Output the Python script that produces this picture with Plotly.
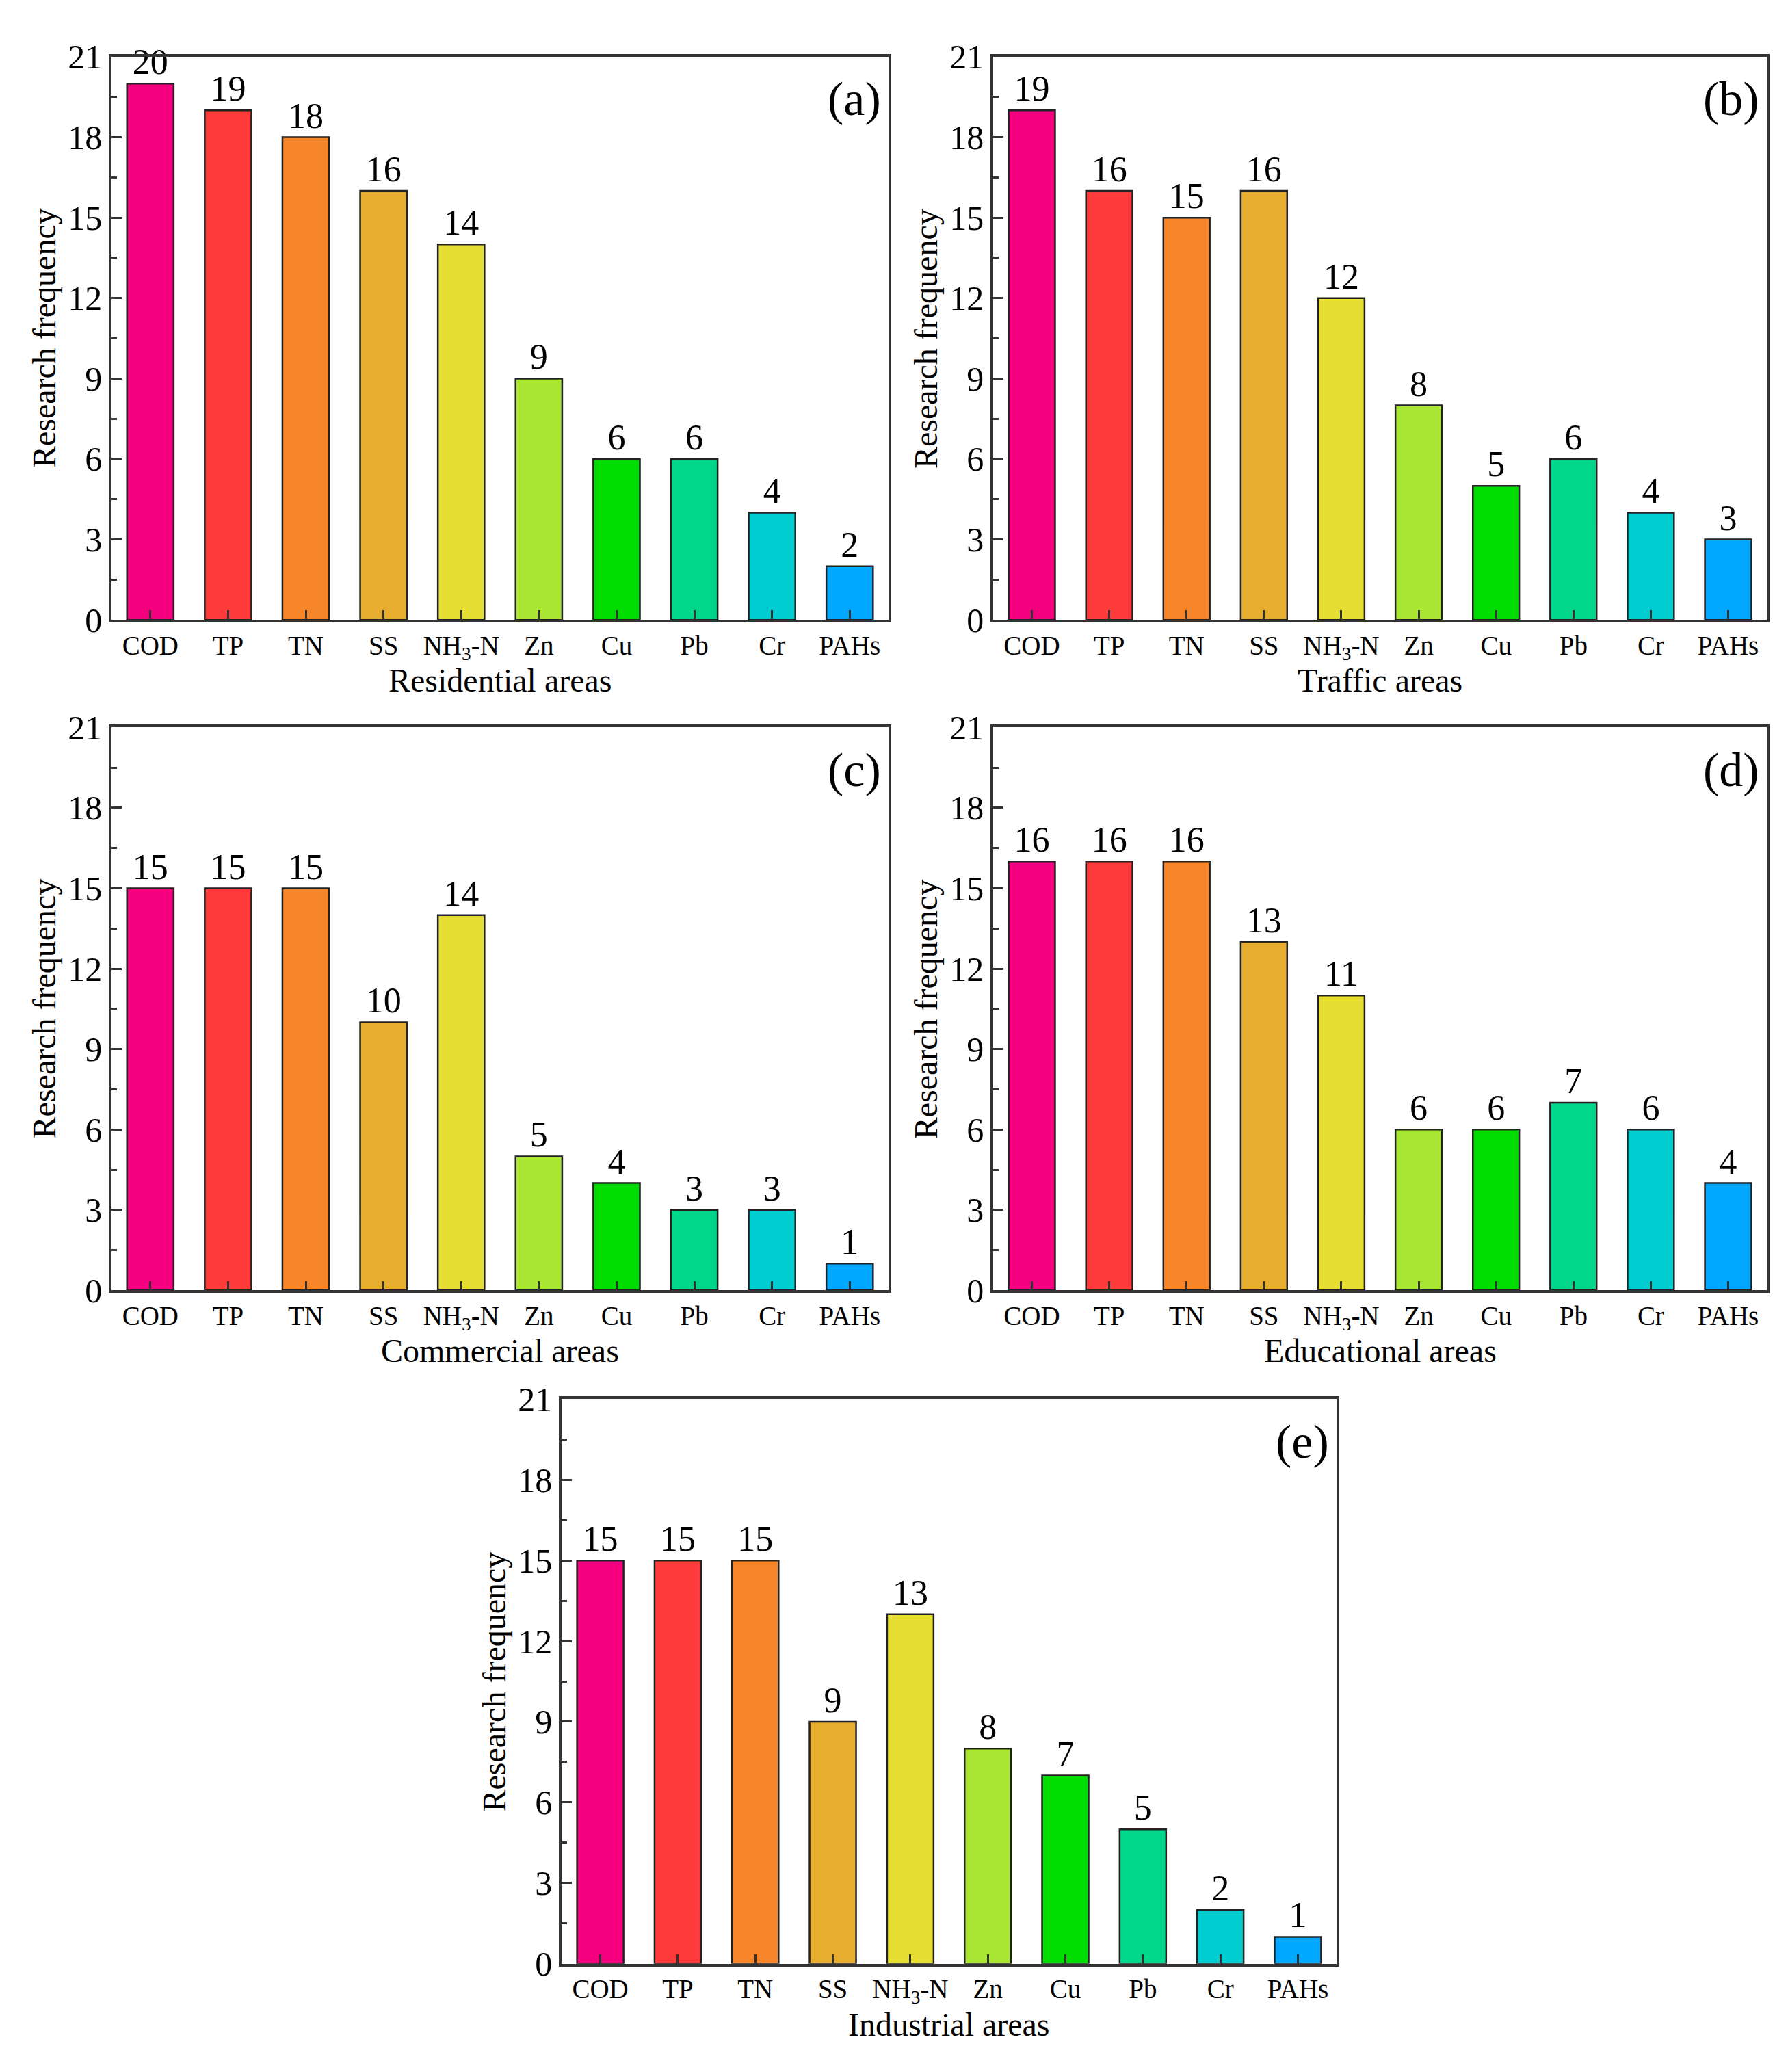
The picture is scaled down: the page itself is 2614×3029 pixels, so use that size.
import plotly.graph_objects as go

# categories and colours shared by all panels
pollutants = ["COD", "TP", "TN", "SS", "NH<sub>3</sub>-N", "Zn", "Cu", "Pb", "Cr", "PAHs"]
bar_colors = ["#F5007F", "#FF3A3A", "#F7862B", "#E6AD2E", "#E6DE33",
              "#A9E634", "#00DC00", "#00D78A", "#00CDD0", "#00A8FF"]

# research frequency per land-use type
residential = [20, 19, 18, 16, 14, 9, 6, 6, 4, 2]
traffic = [19, 16, 15, 16, 12, 8, 5, 6, 4, 3]
commercial = [15, 15, 15, 10, 14, 5, 4, 3, 3, 1]
educational = [16, 16, 16, 13, 11, 6, 6, 7, 6, 4]
industrial = [15, 15, 15, 9, 13, 8, 7, 5, 2, 1]

area_names = ["Residential areas", "Traffic areas", "Commercial areas",
              "Educational areas", "Industrial areas"]
panel_tags = ["(a)", "(b)", "(c)", "(d)", "(e)"]
yticks = [0, 3, 6, 9, 12, 15, 18, 21]

W, H = 2614, 3029
FONT = "Liberation Serif, Times New Roman, serif"
LINE = "#333333"

# panel domains (paper fractions)
x_domains = [[0.0593, 0.4939], [0.5524, 0.9851], [0.0593, 0.4939], [0.5524, 0.9851], [0.311, 0.7445]]
y_domains = [[0.7072, 0.9842], [0.7072, 0.9842], [0.3774, 0.6543], [0.3774, 0.6543], [0.0462, 0.3239]]

series = [residential, traffic, commercial, educational, industrial]

fig = go.Figure()
annotations = []
layout = {}

for i, vals in enumerate(series):
    n = "" if i == 0 else str(i + 1)
    fig.add_trace(go.Bar(
        x=pollutants, y=vals,
        xaxis="x" + n, yaxis="y" + n,
        marker=dict(color=bar_colors, line=dict(color="#222222", width=2.5)),
        width=0.6,
        text=[str(v) for v in vals],
        textposition="outside",
        textfont=dict(family=FONT, size=52, color="black"),
        cliponaxis=False,
        showlegend=False,
    ))
    layout["xaxis" + n] = dict(
        domain=x_domains[i], anchor="y" + n, type="category",
        range=[-0.5, 9.5], showline=True, mirror=True,
        linecolor=LINE, linewidth=3.5, showgrid=False, zeroline=False,
        ticks="inside", ticklen=14, tickwidth=3, tickcolor=LINE,
        tickfont=dict(family=FONT, size=39, color="black"),
    )
    layout["yaxis" + n] = dict(
        domain=y_domains[i], anchor="x" + n,
        range=[0, 21], tickvals=yticks, showline=True, mirror=True,
        linecolor=LINE, linewidth=3.5, showgrid=False, zeroline=False,
        ticks="inside", ticklen=15, tickwidth=3, tickcolor=LINE,
        minor=dict(dtick=1.5, tick0=0, ticks="inside", ticklen=8, tickwidth=3, tickcolor=LINE),
        tickfont=dict(family=FONT, size=50, color="black"),
    )
    xd = "x" + n + " domain"
    yd = "y" + n + " domain"
    # x title
    annotations.append(dict(
        text=area_names[i], xref=xd, yref=yd, x=0.5, y=0,
        xanchor="center", yanchor="top", yshift=-60, showarrow=False,
        font=dict(family=FONT, size=48, color="black"),
    ))
    # y title
    annotations.append(dict(
        text="Research frequency", xref=xd, yref=yd, x=0, y=0.5,
        xanchor="right", yanchor="middle", xshift=-70, textangle=-90,
        showarrow=False, font=dict(family=FONT, size=48, color="black"),
    ))
    # panel tag
    annotations.append(dict(
        text=panel_tags[i], xref=xd, yref=yd, x=0.992, y=0.925,
        xanchor="right", yanchor="middle", showarrow=False,
        font=dict(family=FONT, size=70, color="black"),
    ))

fig.update_layout(
    width=W, height=H,
    margin=dict(l=0, r=0, t=0, b=0),
    paper_bgcolor="white", plot_bgcolor="white",
    annotations=annotations,
    **layout,
)

fig.write_html("out.html")
